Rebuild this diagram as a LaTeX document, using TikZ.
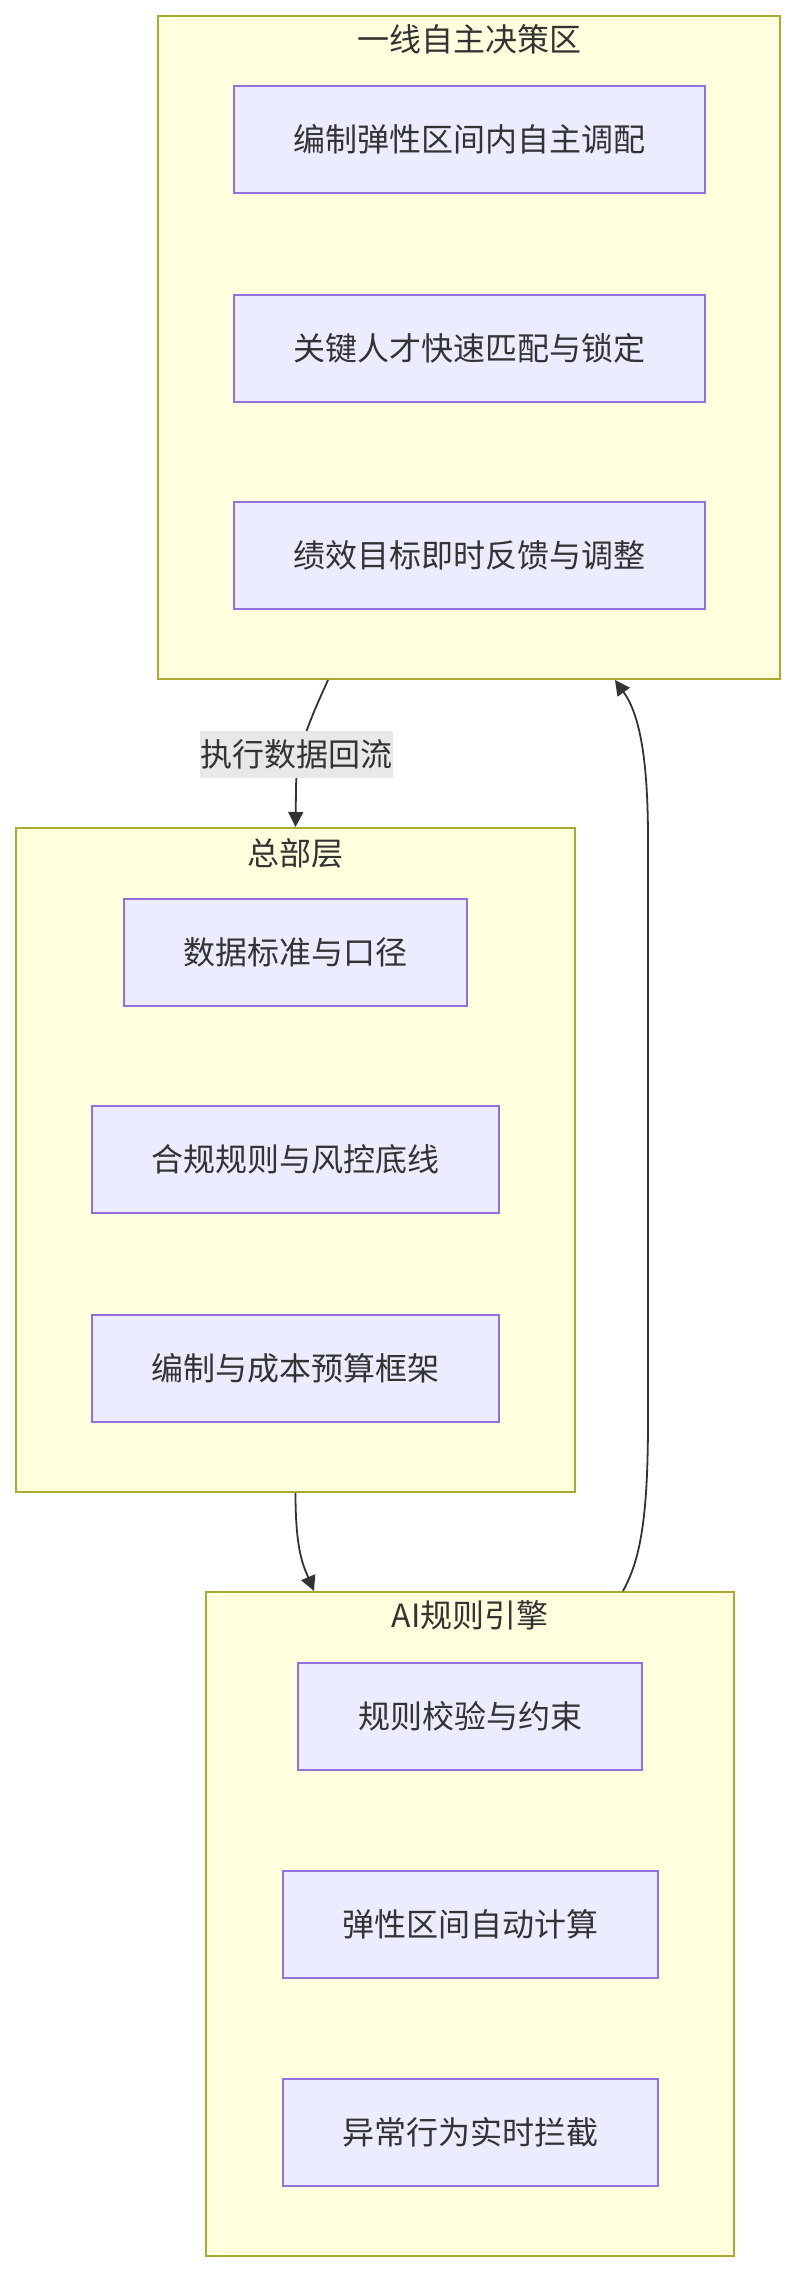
\documentclass[tikz,border=0pt]{standalone}
\usepackage{fontspec}
\setmainfont{Noto Sans CJK SC}
\usetikzlibrary{arrows.meta,positioning}
\definecolor{zonefill}{HTML}{FFFFDE}
\definecolor{zoneline}{HTML}{AAAA33}
\definecolor{itemfill}{HTML}{ECECFF}
\definecolor{itemline}{HTML}{9370DB}
\definecolor{inkgray}{HTML}{333333}
\definecolor{labelbg}{HTML}{E8E8E8}
\newcommand{\bigtext}{\fontsize{32}{38}\selectfont}

\begin{document}
\begin{tikzpicture}[
    x=1pt, y=-1pt,
    zone/.style={draw=zoneline, fill=zonefill, line width=2pt, inner sep=0pt},
    zonetitle/.style={font=\bigtext, text=inkgray, inner sep=0pt},
    item/.style={draw=itemline, fill=itemfill, line width=2pt, inner sep=0pt, minimum height=107pt, font=\bigtext, text=inkgray},
    flow/.style={draw=inkgray, line width=1.8pt, -{Triangle[length=15pt,width=15pt]}},
    flowlabel/.style={fill=labelbg, font=\bigtext, text=inkgray, inner xsep=0.5pt, inner ysep=0pt, minimum height=47pt}
  ]
  \useasboundingbox (0,0) rectangle (796,2272);

  % Frontline zone
  \node[zone, minimum width=622pt, minimum height=663pt] (frontline) at (469,347.5) {};
  \node[zonetitle] (frontlineT) at (469,39) {一线自主决策区};
  \node[item, minimum width=471pt] (adjust) at (469,139.5) {编制弹性区间内自主调配};
  \node[item, minimum width=471pt] (talent) at (469,348) {关键人才快速匹配与锁定};
  \node[item, minimum width=471pt] (perf) at (469,555.5) {绩效目标即时反馈与调整};

  % Headquarters zone
  \node[zone, minimum width=559pt, minimum height=664pt] (hq) at (295.5,1160) {};
  \node[zonetitle] (hqT) at (295.5,853) {总部层};
  \node[item, minimum width=343pt] (datastd) at (295.5,952) {数据标准与口径};
  \node[item, minimum width=407pt] (risk) at (295.5,1159.5) {合规规则与风控底线};
  \node[item, minimum width=407pt] (budget) at (295.5,1368) {编制与成本预算框架};

  % Rule engine zone
  \node[zone, minimum width=528pt, minimum height=664pt] (engine) at (470,1924) {};
  \node[zonetitle] (engineT) at (470,1615) {AI规则引擎};
  \node[item, minimum width=344pt] (check) at (470,1716) {规则校验与约束};
  \node[item, minimum width=375pt] (calc) at (470,1924) {弹性区间自动计算};
  \node[item, minimum width=375pt] (block) at (470,2132) {异常行为实时拦截};

  % Edges
  \draw[flow] ([xshift=-141pt]frontline.south) .. controls (310,720) and (296,750) .. (296,790) -- (hq.north);
  \node[flowlabel] (backflow) at (296,754) {执行数据回流};
  \draw[flow] (hq.south) .. controls (295.5,1550) and (303,1565) .. ([xshift=-156pt]engine.north);
  \draw[flow] ([xshift=153pt]engine.north) .. controls (640,1560) and (648,1520) .. (648,1420) -- (648,840) .. controls (648,760) and (640,715) .. ([xshift=146pt]frontline.south);
\end{tikzpicture}
\end{document}
